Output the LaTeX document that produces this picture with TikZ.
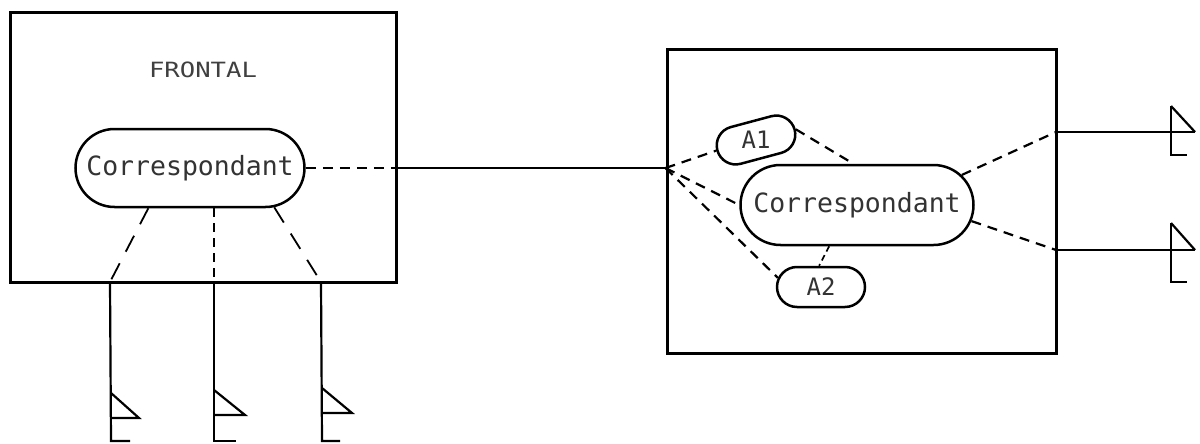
\documentclass[tikz,border=0pt]{standalone}
\usepackage{fontspec}
\newfontfamily\plotfont{DejaVu Sans Mono}
\usetikzlibrary{shapes.misc}
\begin{document}
\begin{tikzpicture}[x=1pt,y=-1pt,
  frame/.style={draw, line width=3pt, inner sep=0pt, rectangle},
  pill/.style={draw, rounded rectangle, line width=2.5pt, inner sep=0pt,
    font=\plotfont\fontsize{26.5}{30}\selectfont, text=black!80},
  smallpill/.style={pill, font=\plotfont\fontsize{24}{28}\selectfont},
  link/.style={line width=2.2pt, dash pattern=on 10pt off 7pt},
  finelink/.style={line width=1.7pt, dash pattern=on 9pt off 6pt},
  longlink/.style={line width=1.8pt, dash pattern=on 18pt off 13pt},
  feed/.style={line width=2.8pt},
  ant/.style={line width=2.2pt, line join=miter}]
\useasboundingbox (0,0) rectangle (1200,444);
\fill[white] (0,0) rectangle (1200,444);

% left unit
\node[frame, minimum width=386pt, minimum height=269pt] (lbox) at (203,147.5) {};
\node[font=\plotfont\fontsize{21}{25}\selectfont, text=black!75] (title) at (203,70) {\scalebox{1.22}[1]{FRONTAL}};
\node[pill, minimum width=229pt, minimum height=78pt] (lp) at (190,168) {Correspondant};

% right unit
\node[frame, minimum width=389pt, minimum height=303pt] (rbox) at (861.5,201.5) {};
\node[pill, minimum width=233pt, minimum height=80pt] (rp) at (857,205) {Correspondant};
\node[smallpill, minimum width=80pt, minimum height=38pt, rotate=15] (a1) at (756,140) {\rotatebox{-15}{A1}};
\node[smallpill, minimum width=88pt, minimum height=40pt] (a2) at (821,287) {A2};

% trunk
\coordinate (jl) at (lbox.east |- lp.east);
\coordinate (J) at (rbox.west |- lp.east);
\draw[link] (lp.east) -- (jl);
\draw[feed] (jl) -- (J);

% right box links
\draw[link] (J) -- (a1.west);
\draw[link] (a1.east) -- (rp.95);
\draw[link] (J) -- (rp.west);
\draw[link] (J) -- (a2.168);
\draw[line width=1.7pt, dash pattern=on 6pt off 4pt] (rp.-124) -- (a2.95);

\coordinate (R1) at (1056,132);
\coordinate (R2) at (1056,250);
\coordinate (T1) at (1195,132);
\coordinate (T2) at (1195,250);
\draw[link] (rp.16) -- (R1);
\draw[link] (rp.-8) -- (R2);
\draw[feed] (R1) -- (T1);
\draw[feed] (R2) -- (T2);
\draw[ant] (1171,106) -- (T1);
\draw[ant] (1171,106) -- (1171,155) -- (1187,155);
\draw[ant] (1171,223) -- (T2);
\draw[ant] (1171,223) -- (1171,282) -- (1187,282);

% left antennas
\coordinate (b1) at (110,282);
\coordinate (b2) at (214,282);
\coordinate (b3) at (321,282);
\draw[longlink] (lp.-136) -- (b1);
\draw[finelink] (lp.south -| b2) -- (b2);
\draw[longlink] (lp.-25) -- (b3);

\draw[ant] (b1) -- (111,441) -- (130,441);
\draw[ant] (111,393) -- (139,418) -- (111,418);
\draw[ant] (b2) -- (214,441) -- (236,441);
\draw[ant] (214,390) -- (245,415) -- (214,415);
\draw[ant] (b3) -- (322,441) -- (340,441);
\draw[ant] (322,388) -- (352,413) -- (322,413);
\end{tikzpicture}
\end{document}
